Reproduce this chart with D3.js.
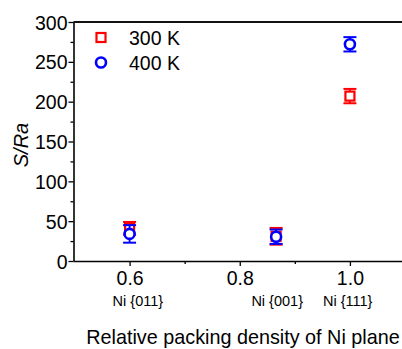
<!DOCTYPE html>
<html>
<head>
<meta charset="utf-8">
<script src="https://cdn.jsdelivr.net/npm/d3@7"></script>
<style>
  html, body { margin: 0; padding: 0; background: #fff; }
  svg { display: block; font-family: Arial, "Liberation Sans", sans-serif; }
</style>
</head>
<body>
<svg id="chart" width="402" height="349"></svg>
<script>
// Relative packing density of each Ni plane
const density = [0.60, 0.866, 1.0];
const planeLabels = ["Ni {011}", "Ni {001}", "Ni {111}"];
const planeLabelX = [0.615, 0.868, 0.996];

// S/Ra at each temperature, with error half-widths
const series = ["300 K", "400 K"];
const s300 = [41, 31, 207];
const e300 = [8, 10.5, 9];
const s400 = [34, 30.5, 272];
const e400 = [11, 9, 9];
const colors = ["#ff0000", "#0000ff"];

const xTicks = [0.6, 0.8, 1.0];
const xMinor = [0.7, 0.9];
const yTicks = [0, 50, 100, 150, 200, 250, 300];
const yMinor = [25, 75, 125, 175, 225, 275];

const svg = d3.select("#chart");
const plotLeft = 73.5, plotRight = 405, plotTop = 22, plotBottom = 261;

const x = d3.scaleLinear().domain([0.5, 1.1]).range([plotLeft + 1, plotRight]);
const y = d3.scaleLinear().domain([0, 300]).range([plotBottom, plotTop]);

// Axes
const xAxis = svg.append("g").attr("transform", `translate(0,${plotBottom})`)
  .call(d3.axisBottom(x).tickValues(xTicks).tickFormat(d3.format(".1f")).tickSize(5).tickSizeOuter(0));
svg.append("g").attr("transform", `translate(0,${plotBottom})`)
  .call(d3.axisBottom(x).tickValues(xMinor).tickFormat("").tickSize(3).tickSizeOuter(0))
  .select(".domain").remove();

const yAxis = svg.append("g").attr("transform", `translate(${plotLeft},0)`)
  .call(d3.axisLeft(y).tickValues(yTicks).tickSize(5).tickSizeOuter(0));
svg.append("g").attr("transform", `translate(${plotLeft},0)`)
  .call(d3.axisLeft(y).tickValues(yMinor).tickFormat("").tickSize(3).tickSizeOuter(0))
  .select(".domain").remove();

svg.selectAll(".domain").attr("stroke", "#000").attr("stroke-width", 1.6);
svg.selectAll(".tick line").attr("stroke", "#000").attr("stroke-width", 1.3);
xAxis.selectAll(".tick text").attr("font-size", 19.5).attr("dy", null).attr("y", 24).attr("fill", "#000");
yAxis.selectAll(".tick text").attr("font-size", 19.5).attr("x", -6).attr("dy", "0.36em").attr("fill", "#000");
xAxis.select(".domain").attr("d", `M${plotLeft},0.5H${402}`);
yAxis.select(".domain").attr("d", `M0.5,${plotBottom}V${plotTop}`);

// Top frame line
svg.append("line")
  .attr("x1", plotLeft).attr("x2", 402)
  .attr("y1", plotTop).attr("y2", plotTop)
  .attr("stroke", "#111").attr("stroke-width", 2.2);

// Plane labels under the x ticks
svg.append("g").selectAll("text").data(planeLabels).join("text")
  .attr("x", (d, i) => x(planeLabelX[i]))
  .attr("y", 306)
  .attr("text-anchor", "middle")
  .attr("font-size", 14.5)
  .attr("fill", "#000")
  .text(d => d);

// Axis titles
svg.append("text")
  .attr("x", 243).attr("y", 344)
  .attr("text-anchor", "middle")
  .attr("font-size", 19.8)
  .attr("fill", "#000")
  .text("Relative packing density of Ni plane");

svg.append("text")
  .attr("transform", `translate(28,145) rotate(-90)`)
  .attr("text-anchor", "middle")
  .attr("font-size", 20)
  .attr("font-style", "italic")
  .attr("fill", "#000")
  .text("S/Ra");

// Error bars and markers
function drawSeries(vals, errs, color, shape) {
  const g = svg.append("g");
  const capW = 6.5;
  density.forEach((dx, i) => {
    const cx = x(dx), cy = y(vals[i]);
    const y1 = y(vals[i] + errs[i]), y2 = y(vals[i] - errs[i]);
    g.append("line").attr("x1", cx).attr("x2", cx).attr("y1", y1).attr("y2", y2)
      .attr("stroke", color).attr("stroke-width", 1.8);
    [y1, y2].forEach(yy => g.append("line")
      .attr("x1", cx - capW).attr("x2", cx + capW).attr("y1", yy).attr("y2", yy)
      .attr("stroke", color).attr("stroke-width", 2));
    drawMarker(g, cx, cy, color, shape);
  });
}

function drawMarker(g, cx, cy, color, shape) {
  if (shape === "square") {
    g.append("rect").attr("x", cx - 4.5).attr("y", cy - 4.5)
      .attr("width", 9).attr("height", 9)
      .attr("fill", "#fff").attr("stroke", color).attr("stroke-width", 2.2);
  } else {
    g.append("circle").attr("cx", cx).attr("cy", cy).attr("r", 5)
      .attr("fill", "#fff").attr("stroke", color).attr("stroke-width", 2.6);
  }
}

drawSeries(s300, e300, colors[0], "square");
drawSeries(s400, e400, colors[1], "circle");

// Legend
const legend = svg.append("g");
series.forEach((name, i) => {
  const ly = 37.5 + i * 25;
  drawMarker(legend, 101, ly, colors[i], i === 0 ? "square" : "circle");
  legend.append("text")
    .attr("x", 129).attr("y", ly + 7)
    .attr("font-size", 19.5)
    .attr("fill", "#000")
    .text(name);
});
</script>
</body>
</html>
